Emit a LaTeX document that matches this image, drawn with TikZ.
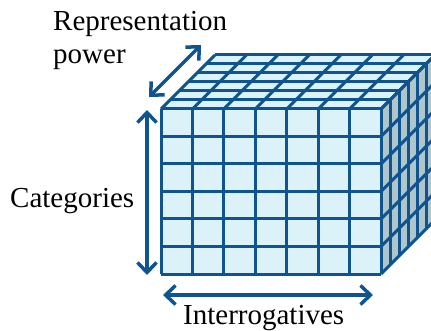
\documentclass[tikz,border=0pt]{standalone}
\usepackage{fontspec}
\setmainfont{Liberation Serif}
\usepackage{xcolor}
\usepackage{tikz}
\usetikzlibrary{arrows.meta,positioning}

\definecolor{cubeline}{HTML}{0F548F}
\definecolor{cubefront}{HTML}{DBF3F8}
\definecolor{cubeside}{HTML}{AFC6CB}

\begin{document}
\begin{tikzpicture}[x=1pt, y=-1pt,
    label/.style={font=\fontsize{29}{33}\selectfont, inner sep=0pt},
    grid/.style={draw=cubeline, line width=3pt, line join=miter},
    dim/.style={draw=cubeline, line width=3.5pt, {Straight Barb[length=10pt,width=19pt]}-{Straight Barb[length=10pt,width=19pt]}},
]
    \useasboundingbox (0,0) rectangle (431,331);
    \clip (0,0) rectangle (431,331);

    % Cube faces
    \fill[cubefront] (161,109) -- (381,109) -- (435,55) -- (215,55) -- cycle;
    \fill[cubeside] (381,109) -- (381,274) -- (435,220) -- (435,55) -- cycle;
    \fill[cubefront] (161,109) rectangle (381,274);

    % Top face
    \foreach \i in {0,...,7}
        \draw[grid] ({161+\i*220/7},109) -- ++(54,-54);
    \foreach \j in {0,...,6}
        \draw[grid] ({161+9*\j},{109-9*\j}) -- ++(220,0);

    % Side face
    \foreach \j in {0,...,6}
        \draw[grid] ({381+9*\j},{109-9*\j}) -- ++(0,165);
    \foreach \i in {0,...,6}
        \draw[grid] (381,{109+\i*165/6}) -- ++(54,-54);

    % Front face
    \foreach \i in {0,...,7}
        \draw[grid] ({161+\i*220/7},109) -- ++(0,165);
    \foreach \i in {0,...,6}
        \draw[grid] (161,{109+\i*165/6}) -- ++(220,0);

    % Labels
    \node[label, anchor=north west, align=left] (power) at (53,11) {Representation\\power};
    \node[label, anchor=base west] (cat) at (10,208) {Categories};
    \node[label, anchor=base west] (inter) at (183,324) {Interrogatives};

    % Dimension arrows
    \coordinate (pa) at (149,97);
    \coordinate (pb) at (201,45);
    \coordinate (ca) at (147,110);
    \coordinate (cb) at (147,275);
    \coordinate (ia) at (163,295);
    \coordinate (ib) at (373,295);
    \draw[dim] (pa) -- (pb);
    \draw[dim] (ca) -- (cb);
    \draw[dim] (ia) -- (ib);
\end{tikzpicture}
\end{document}
